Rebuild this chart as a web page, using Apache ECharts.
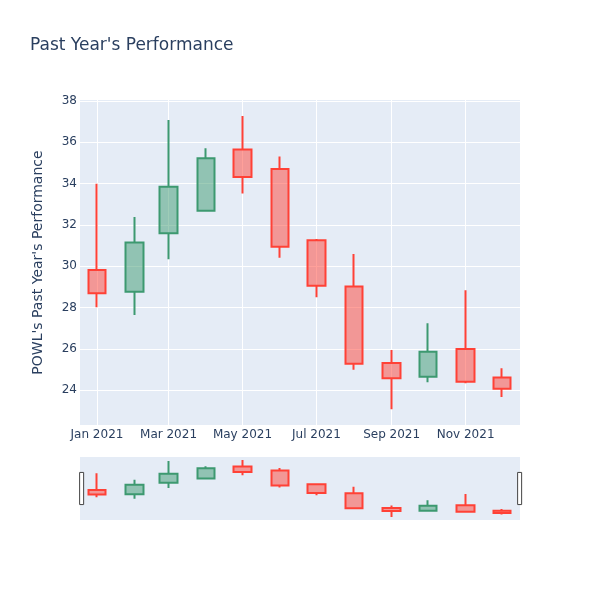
<!DOCTYPE html>
<html>
<head>
<meta charset="utf-8">
<script src="https://cdn.jsdelivr.net/npm/echarts@6/dist/echarts.min.js"></script>
<style>
  html, body { margin: 0; padding: 0; background: #fff; }
  #chart { width: 600px; height: 600px; }
</style>
</head>
<body>
<div id="chart"></div>
<script>
// Monthly candles
const months = ['2021-01-01', '2021-02-01', '2021-03-01', '2021-04-01', '2021-05-01', '2021-06-01',
                '2021-07-01', '2021-08-01', '2021-09-01', '2021-10-01', '2021-11-01', '2021-12-01'];
const openVals  = [29.82, 28.77, 31.60, 32.69, 35.66, 34.71, 31.26, 29.02, 25.32, 24.65, 26.00, 24.62];
const closeVals = [28.70, 31.15, 33.85, 35.23, 34.32, 30.95, 29.06, 25.28, 24.58, 25.86, 24.41, 24.08];
const lowVals   = [28.02, 27.65, 30.34, 32.67, 33.52, 30.42, 28.50, 24.99, 23.08, 24.39, 24.34, 23.67];
const highVals  = [34.00, 32.39, 37.08, 35.71, 37.27, 35.31, 31.32, 30.60, 25.95, 27.24, 28.84, 25.07];

// Axis ticks
const xTickDates = ['2021-01-01', '2021-03-01', '2021-05-01', '2021-07-01', '2021-09-01', '2021-11-01'];
const xTickLabels = ['Jan 2021', 'Mar 2021', 'May 2021', 'Jul 2021', 'Sep 2021', 'Nov 2021'];
const yTicks = [24, 26, 28, 30, 32, 34, 36, 38];

const toTs = d => +new Date(d + 'T00:00:00Z');
const xMin = toTs('2020-12-18');
const xMax = toTs('2021-12-15') + 20 * 3600 * 1000;
const yMin = 22.32;
const yMax = 38.05;

const xTickTs = xTickDates.map(toTs);

const candleData = months.map((m, i) => [toTs(m), openVals[i], closeVals[i], lowVals[i], highVals[i]]);

const textColor = '#2a3f5f';
const font = '"DejaVu Sans", Verdana, sans-serif';

const candleStyle = {
    color: 'rgba(61,153,112,0.5)',
    color0: 'rgba(255,65,54,0.5)',
    borderColor: '#3D9970',
    borderColor0: '#FF4136',
    borderWidth: 2
};

const chart = echarts.init(document.getElementById('chart'), null, { renderer: 'canvas' });

chart.setOption({
    animation: false,
    backgroundColor: '#fff',
    title: {
        text: "Past Year's Performance",
        left: 30,
        top: 37,
        padding: 0,
        textStyle: { fontFamily: font, fontSize: 17, fontWeight: 'normal', color: textColor }
    },
    grid: [
        { left: 80, right: 80, top: 100, height: 325, show: true, backgroundColor: '#E5ECF6', borderWidth: 0 },
        { left: 80, right: 80, top: 457, height: 63, show: true, backgroundColor: '#E5ECF6', borderWidth: 0 }
    ],
    xAxis: [
        {
            type: 'value',
            gridIndex: 0,
            min: xMin,
            max: xMax,
            axisLine: { show: false },
            axisTick: { show: false, customValues: xTickTs },
            axisLabel: {
                customValues: xTickTs,
                margin: 4,
                color: textColor,
                fontFamily: font,
                fontSize: 12,
                formatter: v => {
                    const i = xTickTs.indexOf(v);
                    return i >= 0 ? xTickLabels[i] : '';
                }
            },
            splitLine: { show: true, lineStyle: { color: '#fff', width: 1 } }
        },
        {
            type: 'value',
            gridIndex: 1,
            min: xMin,
            max: xMax,
            show: false
        }
    ],
    yAxis: [
        {
            type: 'value',
            gridIndex: 0,
            min: yMin,
            max: yMax,
            name: "POWL's Past Year's Performance",
            nameLocation: 'middle',
            nameGap: 35,
            nameTextStyle: { fontFamily: font, fontSize: 14, color: textColor },
            axisLine: { show: false },
            axisTick: { show: false, customValues: yTicks },
            axisLabel: { customValues: yTicks, margin: 3, color: textColor, fontFamily: font, fontSize: 12 },
            splitLine: { show: true, lineStyle: { color: '#fff', width: 1 } }
        },
        {
            type: 'value',
            gridIndex: 1,
            min: yMin,
            max: yMax,
            show: false
        }
    ],
    dataZoom: [{
        type: 'slider',
        xAxisIndex: [1],
        filterMode: 'none',
        start: 0,
        end: 100,
        left: 80,
        right: 80,
        top: 457,
        height: 63,
        showDataShadow: false,
        showDetail: false,
        brushSelect: false,
        moveHandleSize: 0,
        zoomLock: true,
        backgroundColor: 'transparent',
        fillerColor: 'transparent',
        borderColor: 'transparent',
        handleIcon: 'path://M0,0 L4,0 L4,32 L0,32 Z',
        handleSize: '51%',
        handleStyle: { color: '#fff', borderColor: '#444', borderWidth: 1 },
        emphasis: { handleStyle: { color: '#fff', borderColor: '#444', borderWidth: 1 } }
    }],
    series: [
        {
            type: 'candlestick',
            xAxisIndex: 0,
            yAxisIndex: 0,
            barWidth: 18,
            data: candleData,
            encode: { x: 0, y: [1, 2, 3, 4] },
            itemStyle: candleStyle,
            emphasis: { disabled: true }
        },
        {
            type: 'candlestick',
            xAxisIndex: 1,
            yAxisIndex: 1,
            barWidth: 18,
            data: candleData,
            encode: { x: 0, y: [1, 2, 3, 4] },
            itemStyle: candleStyle,
            emphasis: { disabled: true }
        }
    ]
});
</script>
</body>
</html>
